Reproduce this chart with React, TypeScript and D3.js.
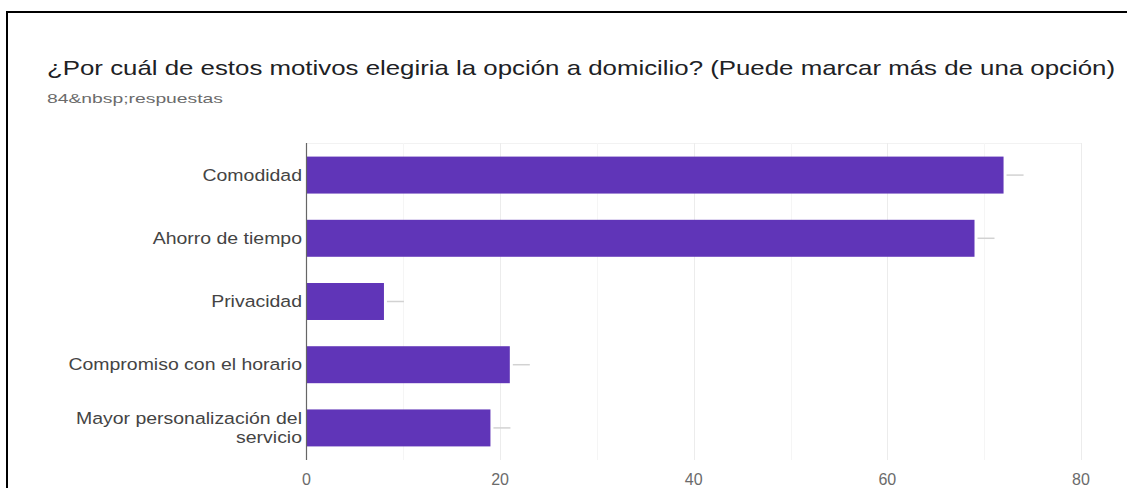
import React, { useEffect, useRef } from "react";
import * as d3 from "d3";

const title = "¿Por cuál de estos motivos elegiria la opción a domicilio? (Puede marcar más de una opción)";
const subtitle = "84&nbsp;respuestas";
const categories = [
  "Comodidad",
  "Ahorro de tiempo",
  "Privacidad",
  "Compromiso con el horario",
  "Mayor personalización del servicio",
];
const values = [72, 69, 8, 21, 19];
const xTicks = [0, 20, 40, 60, 80];
const xGrid = [10, 20, 30, 40, 50, 60, 70, 80];

const W = 1127;
const H = 488;
const FONT = "'Liberation Sans', Arial, sans-serif";

function wrapLabel(text: string, maxWidth: number, font: string): string[] {
  const canvas = document.createElement("canvas");
  const ctx = canvas.getContext("2d")!;
  ctx.font = font;
  const words = text.split(" ");
  const lines: string[] = [];
  let cur = "";
  for (const w of words) {
    const t = cur ? cur + " " + w : w;
    if (ctx.measureText(t).width > maxWidth && cur) {
      lines.push(cur);
      cur = w;
    } else cur = t;
  }
  if (cur) lines.push(cur);
  return lines;
}

export default function App() {
  const ref = useRef<SVGSVGElement>(null);

  useEffect(() => {
    const svg = d3.select(ref.current);
    svg.selectAll("*").remove();

    const x = d3.scaleLinear().domain([0, 80]).range([306.5, 1081]);
    const y = d3
      .scaleBand<string>()
      .domain(categories)
      .range([143, 460])
      .paddingInner(0.415)
      .paddingOuter(0.215);

    // frame border
    svg.append("line").attr("x1", 6).attr("x2", W).attr("y1", 12).attr("y2", 12).attr("stroke", "#000").attr("stroke-width", 2);
    svg.append("line").attr("x1", 7).attr("x2", 7).attr("y1", 11).attr("y2", H).attr("stroke", "#000").attr("stroke-width", 2);

    // title
    svg
      .append("text")
      .attr("x", 47)
      .attr("y", 75)
      .attr("font-family", FONT)
      .attr("font-size", 21)
      .attr("fill", "#202124")
      .attr("textLength", 1068)
      .attr("lengthAdjust", "spacingAndGlyphs")
      .text(title);

    svg
      .append("text")
      .attr("x", 47)
      .attr("y", 103)
      .attr("font-family", FONT)
      .attr("font-size", 13)
      .attr("fill", "#6b6b6b")
      .attr("textLength", 176)
      .attr("lengthAdjust", "spacingAndGlyphs")
      .text(subtitle);

    // grid
    const g = svg.append("g");
    g.append("line")
      .attr("x1", x(0)).attr("x2", x(80))
      .attr("y1", 143.5).attr("y2", 143.5)
      .attr("stroke", "#f2f2f2");
    g.selectAll("line.grid")
      .data(xGrid)
      .join("line")
      .attr("class", "grid")
      .attr("x1", (d) => Math.round(x(d)) + 0.5)
      .attr("x2", (d) => Math.round(x(d)) + 0.5)
      .attr("y1", 143)
      .attr("y2", 460)
      .attr("stroke", (d) => (d % 20 === 0 ? "#ececec" : "#f5f5f5"));

    // bars
    g.selectAll("rect.bar")
      .data(values)
      .join("rect")
      .attr("class", "bar")
      .attr("x", x(0))
      .attr("y", (_, i) => y(categories[i])!)
      .attr("width", (d) => x(d) - x(0))
      .attr("height", y.bandwidth())
      .attr("fill", "#6035b8");

    // small grey dashes after bars
    g.selectAll("line.dash")
      .data(values)
      .join("line")
      .attr("class", "dash")
      .attr("x1", (d) => x(d) + 3)
      .attr("x2", (d) => x(d) + 20)
      .attr("y1", (_, i) => y(categories[i])! + y.bandwidth() / 2)
      .attr("y2", (_, i) => y(categories[i])! + y.bandwidth() / 2)
      .attr("stroke", "#d2d2d2")
      .attr("stroke-width", 1.5);

    // axis line
    g.append("line")
      .attr("x1", 306.5).attr("x2", 306.5)
      .attr("y1", 143).attr("y2", 460)
      .attr("stroke", "#666")
      .attr("stroke-width", 1.2);

    // category labels (slightly wide glyphs, as in the reference)
    const fs = 16.5;
    const sx = 1.18;
    const labelFont = `${fs}px ${FONT}`;
    categories.forEach((c) => {
      const lines = wrapLabel(c, 250 / sx, labelFont);
      const cy = y(c)! + y.bandwidth() / 2;
      const lh = 19.5;
      const t = svg
        .append("text")
        .attr("transform", `translate(302,0) scale(${sx},1)`)
        .attr("text-anchor", "end")
        .attr("font-family", FONT)
        .attr("font-size", fs)
        .attr("fill", "#444");
      lines.forEach((ln, k) => {
        t.append("tspan")
          .attr("x", 0)
          .attr("y", cy + (k - (lines.length - 1) / 2) * lh)
          .attr("dy", "0.35em")
          .text(ln);
      });
    });

    // x tick labels
    svg
      .selectAll("text.tick")
      .data(xTicks)
      .join("text")
      .attr("class", "tick")
      .attr("x", (d) => x(d))
      .attr("y", 485)
      .attr("text-anchor", "middle")
      .attr("font-family", FONT)
      .attr("font-size", 16)
      .attr("fill", "#6b6b6b")
      .text((d) => String(d));
  }, []);

  return (
    <svg
      ref={ref}
      width={W}
      height={H}
      style={{ position: "absolute", left: 0, top: 0, background: "#fff" }}
    />
  );
}
